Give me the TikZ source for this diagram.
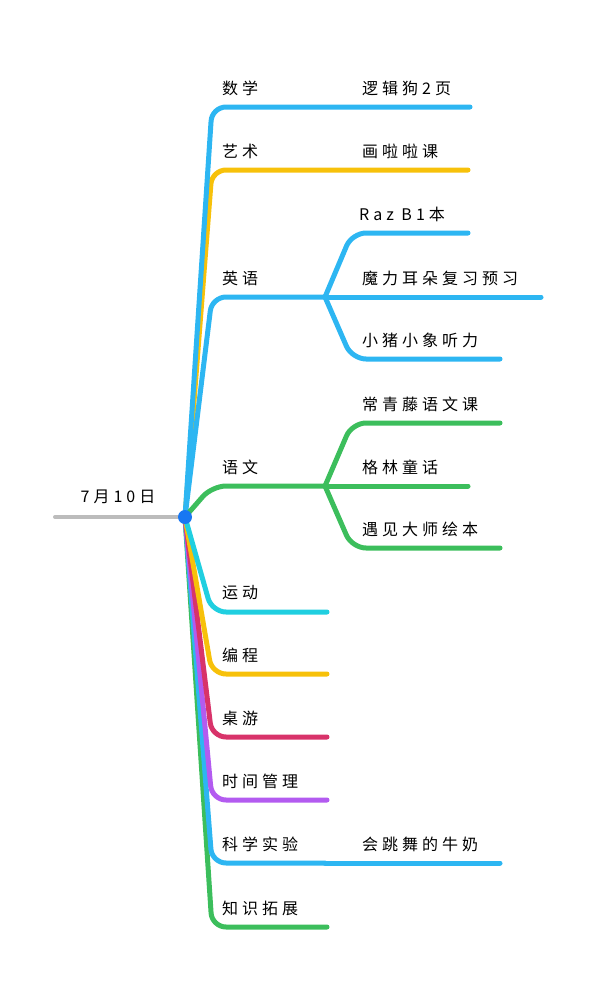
\documentclass[tikz,border=0pt]{standalone}
\usepackage{fontspec}
\newfontfamily\cjk[LetterSpace=25]{Noto Sans CJK SC}
\usepackage{xcolor}
\definecolor{mapblue}{RGB}{45,182,242}
\definecolor{mapyellow}{RGB}{247,193,10}
\definecolor{mapgreen}{RGB}{60,190,92}
\definecolor{mapcyan}{RGB}{32,207,224}
\definecolor{mapred}{RGB}{216,51,106}
\definecolor{mappurple}{RGB}{179,91,240}
\definecolor{mapgray}{RGB}{188,188,188}
\definecolor{mapdot}{RGB}{24,119,242}
\tikzset{
  br/.style   ={line width=5pt, line cap=round, rounded corners=14pt},
  lab/.style  ={font=\cjk\fontsize{16}{19}\selectfont, anchor=west, inner sep=0pt},
}

\begin{document}
\begin{tikzpicture}[x=1pt,y=-1pt]
  \useasboundingbox (0,0) rectangle (597,983);
  \coordinate (root) at (185,517);
  \coordinate (start) at (55,517);
  \draw[mapgray, line width=4pt, line cap=round] (start) -- (root);
  \node[lab, anchor=center] (rootlab) at (118,497) {7月10日};
  % main branches
  \coordinate (shuxue-c) at (212,107);   \coordinate (shuxue-e) at (470,107);
  \coordinate (yishu-c) at (212,170);    \coordinate (yishu-e) at (468,170);
  \coordinate (yingyu-c) at (212,297);   \coordinate (yingyu-e) at (325,297);
  \coordinate (yuwen-c) at (212,486);    \coordinate (yuwen-e) at (325,486);
  \coordinate (yundong-c) at (212,612);  \coordinate (yundong-e) at (327,612);
  \coordinate (biancheng-c) at (212,674);\coordinate (biancheng-e) at (327,674);
  \coordinate (zhuoyou-c) at (212,737);  \coordinate (zhuoyou-e) at (327,737);
  \coordinate (shijian-c) at (212,800);  \coordinate (shijian-e) at (327,800);
  \coordinate (kexue-c) at (212,863);    \coordinate (kexue-e) at (325,863);
  \coordinate (zhishi-c) at (212,927);   \coordinate (zhishi-e) at (327,927);
  \draw[br, mapgreen] (root) -- (zhishi-c) -- (zhishi-e);
  \draw[br, mapblue] (root) -- (kexue-c) -- (kexue-e);
  \draw[br, mappurple] (root) -- (shijian-c) -- (shijian-e);
  \draw[br, mapred] (root) -- (zhuoyou-c) -- (zhuoyou-e);
  \draw[br, mapyellow] (root) -- (biancheng-c) -- (biancheng-e);
  \draw[br, mapcyan] (root) -- (yundong-c) -- (yundong-e);
  \draw[br, mapyellow] (root) -- (yishu-c) -- (yishu-e);
  \draw[br, mapblue] (root) -- (shuxue-c) -- (shuxue-e);
  \draw[br, mapblue] (root) -- (yingyu-c) -- (yingyu-e);
  \draw[br, mapgreen] (root) -- (yuwen-c) -- (yuwen-e);
  % sub branches
  \coordinate (raz-c) at (352,233);      \coordinate (raz-e) at (468,233);
  \coordinate (moli-e) at (541,297);
  \coordinate (xiaozhu-c) at (352,359);  \coordinate (xiaozhu-e) at (500,359);
  \draw[br, mapblue] (yingyu-e) -- (raz-c) -- (raz-e);
  \draw[br, mapblue] (yingyu-e) -- (moli-e);
  \draw[br, mapblue] (yingyu-e) -- (xiaozhu-c) -- (xiaozhu-e);
  \coordinate (changqing-c) at (352,423);\coordinate (changqing-e) at (500,423);
  \coordinate (gelin-e) at (468,486);
  \coordinate (yujian-c) at (352,548);   \coordinate (yujian-e) at (500,548);
  \draw[br, mapgreen] (yuwen-e) -- (changqing-c) -- (changqing-e);
  \draw[br, mapgreen] (yuwen-e) -- (gelin-e);
  \draw[br, mapgreen] (yuwen-e) -- (yujian-c) -- (yujian-e);
  \coordinate (niunai-e) at (500,863);
  \draw[br, mapblue] (kexue-e) -- (niunai-e);
  \fill[mapdot] (root) circle (7);
  % labels
  \node[lab] (shuxue) at (222,88) {数学};
  \node[lab] (yishu) at (222,151) {艺术};
  \node[lab] (yingyu) at (222,278) {英语};
  \node[lab] (yuwen) at (222,467) {语文};
  \node[lab] (yundong) at (222,593) {运动};
  \node[lab] (biancheng) at (222,655) {编程};
  \node[lab] (zhuoyou) at (222,718) {桌游};
  \node[lab] (shijian) at (222,781) {时间管理};
  \node[lab] (kexue) at (222,844) {科学实验};
  \node[lab] (zhishi) at (222,908) {知识拓展};
  \node[lab] (luoji) at (362,88) {逻辑狗2页};
  \node[lab] (hualala) at (362,151) {画啦啦课};
  \node[lab] (raz) at (359,214) {Raz B1本};
  \node[lab] (moli) at (362,278) {魔力耳朵复习预习};
  \node[lab] (xiaozhu) at (362,340) {小猪小象听力};
  \node[lab] (changqing) at (362,404) {常青藤语文课};
  \node[lab] (gelin) at (362,467) {格林童话};
  \node[lab] (yujian) at (362,529) {遇见大师绘本};
  \node[lab] (niunai) at (362,844) {会跳舞的牛奶};
\end{tikzpicture}
\end{document}
